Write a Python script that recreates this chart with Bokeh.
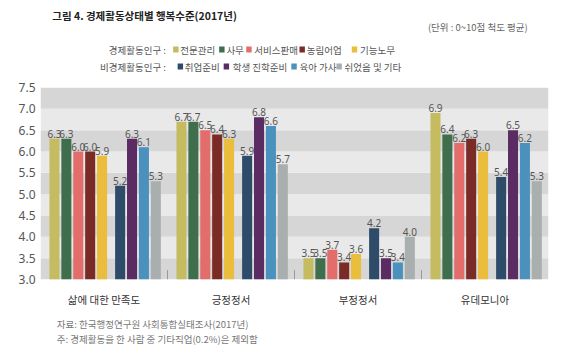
from bokeh.plotting import figure
from bokeh.models import Range1d, BoxAnnotation, FixedTicker
from bokeh.layouts import column
from bokeh.core.properties import value
from bokeh.embed import file_html
from bokeh.resources import INLINE

# ---------------- data ----------------
categories = ["삶에 대한 만족도", "긍정정서", "부정정서", "유데모니아"]

econ_names = ["전문관리", "사무", "서비스판매", "농림어업", "기능노무"]
nonecon_names = ["취업준비", "학생 진학준비", "육아 가사", "쉬었음 및 기타"]

professional = [6.3, 6.7, 3.5, 6.9]
office = [6.3, 6.7, 3.5, 6.4]
service_sales = [6.0, 6.5, 3.7, 6.2]
agriculture = [6.0, 6.4, 3.4, 6.3]
technical_labor = [5.9, 6.3, 3.6, 6.0]

job_prep = [5.2, 5.9, 4.2, 5.4]
student_prep = [6.3, 6.8, 3.5, 6.5]
childcare_housework = [6.1, 6.6, 3.4, 6.2]
rest_other = [5.3, 5.7, 4.0, 5.3]

y_ticks = [3.0, 3.5, 4.0, 4.5, 5.0, 5.5, 6.0, 6.5, 7.0, 7.5]

title_text = "그림 4. 경제활동상태별 행복수준(2017년)"
unit_text = "(단위 : 0~10점 척도 평균)"
legend_row1_label = "경제활동인구 :"
legend_row2_label = "비경제활동인구 :"
source_text = "자료: 한국행정연구원 사회통합실태조사(2017년)"
note_text = "주: 경제활동을 한 사람 중 기타직업(0.2%)은 제외함"

# ---------------- styles ----------------
econ_colors = ["#c5bc62", "#3e6e4c", "#e36d6b", "#7b2b26", "#ebbd3c"]
nonecon_colors = ["#2f4b6a", "#5b2c63", "#4b91bd", "#a9aeae"]
KR = value("Noto Sans CJK KR")
NUM = value("Noto Sans")

econ_series = [professional, office, service_sales, agriculture, technical_labor]
nonecon_series = [job_prep, student_prep, childcare_housework, rest_other]

pitch = 0.0937
bar_w = 0.079
econ_offsets = [0.110 + i * pitch for i in range(5)]
nonecon_offsets = [0.627 + j * pitch for j in range(4)]

# ---------------- header ----------------
header = figure(width=563, height=80, x_range=Range1d(0, 563), y_range=Range1d(80, 0),
                output_backend="svg", toolbar_location=None, min_border=0)
header.axis.visible = False
header.grid.visible = False
header.outline_line_color = None

header.text(x=[13], y=[15], text=[title_text], text_font=KR, text_font_size="10.5px",
            text_font_style="bold", text_color="#222222", text_baseline="middle")
header.text(x=[540], y=[26], text=[unit_text], text_font=KR, text_font_size="9.5px",
            text_color="#666666", text_baseline="middle", text_align="right")

header.text(x=[139, 139], y=[49, 66], text=[legend_row1_label, legend_row2_label],
            text_font=KR, text_font_size="9.5px", text_color="#555555",
            text_baseline="middle", text_align="right")

row1_sq = [150, 201, 231, 290, 348]
row1_tx = [155, 206, 237, 295, 354]
row2_sq = [155, 206, 281, 331]
row2_tx = [160, 213, 287, 337]

header.rect(x=row1_sq, y=[49] * 5, width=6, height=6, fill_color=econ_colors, line_color=None)
header.text(x=row1_tx, y=[49] * 5, text=econ_names, text_font=KR, text_font_size="9.5px",
            text_color="#555555", text_baseline="middle")
header.rect(x=row2_sq, y=[66] * 4, width=6, height=6, fill_color=nonecon_colors, line_color=None)
header.text(x=row2_tx, y=[66] * 4, text=nonecon_names, text_font=KR, text_font_size="9.5px",
            text_color="#555555", text_baseline="middle")

# ---------------- main chart ----------------
n = len(categories)
p = figure(width=563, height=232, x_range=Range1d(0, n), y_range=Range1d(y_ticks[0], y_ticks[-1]),
           output_backend="svg", toolbar_location=None,
           min_border_left=40, min_border_right=15, min_border_top=7, min_border_bottom=33)
p.outline_line_color = None
p.grid.visible = False
p.background_fill_color = "#ffffff"

# alternating bands
for k in range(len(y_ticks) - 1):
    col = "#d6d6d6" if (len(y_ticks) - 2 - k) % 2 == 0 else "#e9e9e9"
    p.add_layout(BoxAnnotation(bottom=y_ticks[k], top=y_ticks[k + 1], fill_color=col,
                               fill_alpha=1.0, line_color=None, level="underlay"))

base = y_ticks[0]
for series, offs, cols in ((econ_series, econ_offsets, econ_colors),
                           (nonecon_series, nonecon_offsets, nonecon_colors)):
    for vals, off, c in zip(series, offs, cols):
        xs = [g + off for g in range(n)]
        p.vbar(x=xs, top=vals, bottom=base, width=bar_w, fill_color=c, line_color=None)
        p.text(x=xs, y=vals, text=[f"{v:.1f}" for v in vals], text_font=NUM,
               text_font_size="10px", text_color="#555555", text_align="center",
               text_baseline="bottom", y_offset=-1)

# group separators
p.segment(x0=list(range(1, n)), y0=[base] * (n - 1), x1=list(range(1, n)),
          y1=[base + 0.22] * (n - 1), line_color="#9a9a9a", line_width=1)

p.yaxis.ticker = FixedTicker(ticks=y_ticks)
p.yaxis.major_label_overrides = {t: f"{t:.1f}" for t in y_ticks}
p.yaxis.axis_line_color = None
p.yaxis.major_tick_line_color = None
p.yaxis.minor_tick_line_color = None
p.yaxis.major_tick_out = 0
p.yaxis.major_tick_in = 0
p.yaxis.major_label_standoff = 5
p.yaxis.major_label_text_font = "Noto Sans"
p.yaxis.major_label_text_font_size = "12px"
p.yaxis.major_label_text_color = "#555555"

centers = [g + 0.5 for g in range(n)]
p.xaxis.ticker = FixedTicker(ticks=centers)
p.xaxis.major_label_overrides = {c: name for c, name in zip(centers, categories)}
p.xaxis.axis_line_color = None
p.xaxis.major_tick_line_color = None
p.xaxis.minor_tick_line_color = None
p.xaxis.major_tick_out = 0
p.xaxis.major_tick_in = 0
p.xaxis.major_label_standoff = 12
p.xaxis.major_label_text_font = "Noto Sans CJK KR"
p.xaxis.major_label_text_font_size = "10.5px"
p.xaxis.major_label_text_color = "#333333"

# ---------------- footer ----------------
footer = figure(width=563, height=42, x_range=Range1d(0, 563), y_range=Range1d(42, 0),
                output_backend="svg", toolbar_location=None, min_border=0)
footer.axis.visible = False
footer.grid.visible = False
footer.outline_line_color = None
footer.text(x=[18, 18], y=[11, 26], text=[source_text, note_text], text_font=KR,
            text_font_size="9.5px", text_color="#777777", text_baseline="middle")

layout = column(header, p, footer, spacing=0)
open("out.html", "w").write(file_html(layout, INLINE))
